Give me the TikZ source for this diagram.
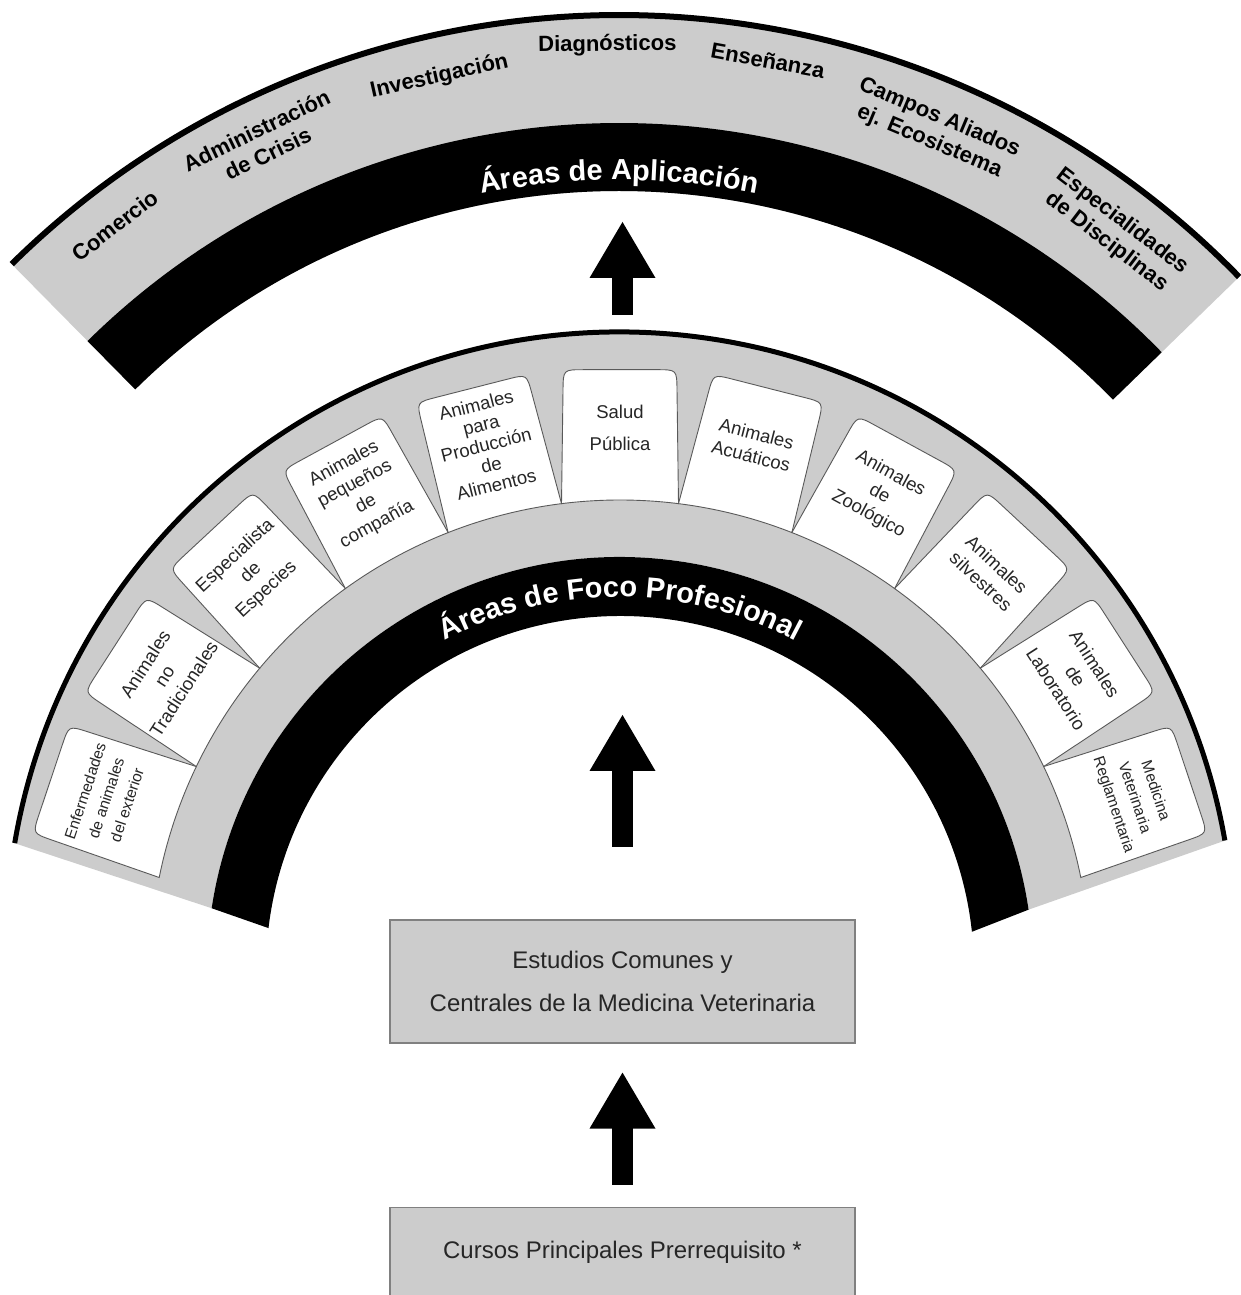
\documentclass[tikz,border=0pt]{standalone}
\usepackage{fontspec}
\setmainfont{Liberation Sans}
\usetikzlibrary{calc,arrows.meta,decorations.text}

\definecolor{bandgray}{HTML}{CCCCCC}
\definecolor{edgegray}{HTML}{808080}

\newcommand{\tabfont}{\fontsize{18.5}{23}\selectfont}
\newcommand{\tabtightfont}{\fontsize{18.5}{20.5}\selectfont}
\newcommand{\tabsmallfont}{\fontsize{15.5}{22}\selectfont}
\newcommand{\arcfont}{\bfseries\fontsize{22}{26}\selectfont}
\newcommand{\titlefont}{\bfseries\fontsize{29}{29}\selectfont}
\newcommand{\boxfont}{\fontsize{24}{43}\selectfont}

\tikzset{
  tab/.style={draw=black!65, fill=white, line width=0.9pt},
  tabtext/.style={align=center, font=\tabfont, text=black!85, inner sep=0pt},
  tabtight/.style={align=center, font=\tabtightfont, text=black!85, inner sep=0pt},
  tabsmall/.style={align=center, font=\tabsmallfont, text=black!85, inner sep=0pt},
  arclabel/.style={align=center, font=\arcfont, inner sep=0pt},
  studybox/.style={draw=edgegray, fill=bandgray, line width=1.2pt, minimum width=465pt,
    font=\boxfont, text=black!85, align=center},
  bigarrow/.style={line width=21pt, line cap=rect,
    -{Triangle[width=66pt, length=56pt, line width=0pt]}}
}

\begin{document}
\begin{tikzpicture}[x=1pt, y=1pt]
  \useasboundingbox (0,0) rectangle (1241,1295);

  % centres of the arcs
  \coordinate (capl) at (619,415);
  \coordinate (cfoco) at (620,325);
  \coordinate (cout) at (620,349);

  % top band: areas de aplicacion
  \fill[bandgray] ($(capl)+(134.6:866)$) arc[start angle=134.6, end angle=44.2, radius=866]
    -- ($(capl)+(44.2:689)$) arc[start angle=44.2, end angle=134.6, radius=689] -- cycle;
  \fill[black] ($(capl)+(134.6:757)$) arc[start angle=134.6, end angle=44.2, radius=757]
    -- ($(capl)+(44.2:689)$) arc[start angle=44.2, end angle=134.6, radius=689] -- cycle;
  \draw[line width=6pt] ($(capl)+(134.6:865)$) arc[start angle=134.6, end angle=44.2, radius=865];
  \path[decorate, decoration={text along path, text align=center, text color=white,
      text={|\titlefont|Áreas de Aplicación}}]
    ($(capl)+(106:700)$) arc[start angle=106, end angle=74, radius=700];

  \foreach \a/\r/\lbl [count=\n] in {127.6/826/Comercio,
      115.8/820/{Administración\\de Crisis},
      102.6/823/Investigación,
      90.8/835/Diagnósticos,
      79.7/833/Enseñanza,
      67.2/814/{Campos Aliados\\ej. Ecosistema},
      52.6/816/{Especialidades\\de Disciplinas}}
    \node[arclabel, rotate=\a-90] (area\n) at ($(capl)+(\a:\r)$) {\lbl};

  % middle band: areas de foco profesional
  \fill[bandgray] ($(cout)+(170.35:615)$) arc[start angle=170.35, end angle=9.9, radius=615]
    -- ($(cfoco)+(8.4:413)$) arc[start angle=8.4, end angle=171.4, radius=413] -- cycle;
  \draw[line width=5pt] ($(cout)+(170.35:614)$) arc[start angle=170.35, end angle=9.9, radius=614];

  \foreach \k/\fs/\lbl in {0/tabsmall/{Enfermedades\\de animales\\del exterior},
      1/tabtext/{Animales\\no\\Tradicionales},
      2/tabtext/{Especialista\\de\\Especies},
      3/tabtext/{Animales\\pequeños\\de\\compañía},
      4/tabtight/{Animales\\para\\Producción\\de\\Alimentos},
      5/tabtext/{Salud\\[9pt]Pública},
      6/tabtext/{Animales\\Acuáticos},
      7/tabtext/{Animales\\de\\Zoológico},
      8/tabtext/{Animales\\silvestres},
      9/tabtext/{Animales\\de\\Laboratorio},
      10/tabsmall/{Medicina\\Veterinaria\\Reglamentaria}}
  {
    \pgfmathsetmacro\tl{168.65-14.3*\k}
    \pgfmathsetmacro\tr{\tl-14.3}
    \pgfmathsetmacro\tc{\tl-7.15}
    \pgfmathsetmacro\ta{\tc-5.4}
    \pgfmathsetmacro\tb{\tc+5.4}
    \coordinate (p1) at ($(cfoco)+(\tr:470)$);
    \coordinate (p2) at ($(cfoco)+(\ta:603)$);
    \coordinate (p3) at ($(cfoco)+(\tb:603)$);
    \coordinate (p4) at ($(cfoco)+(\tl:470)$);
    \draw[tab] (p1) -- ($(p2)!20pt!(p1)$) .. controls (p2) .. ($(p2)!20pt!(p3)$)
      -- ($(p3)!20pt!(p2)$) .. controls (p3) .. ($(p3)!20pt!(p4)$)
      -- (p4) arc[start angle=\tl, end angle=\tr, radius=470] -- cycle;
    \node[\fs, rotate=\tc-90] (tab\k) at ($(cfoco)+(\tc:542)$) {\lbl};
  }

  \fill[black] ($(cfoco)+(171.4:413)$) arc[start angle=171.4, end angle=8.4, radius=413]
    -- ($(cfoco)+(6.2:354)$) arc[start angle=6.2, end angle=173.2, radius=354] -- cycle;
  \path[decorate, decoration={text along path, text align=center, text color=white,
      text={|\titlefont|Áreas de Foco Profesional}}]
    ($(cfoco)+(122:373)$) arc[start angle=122, end angle=58, radius=373];

  % boxes
  \node[studybox, minimum height=123pt] (estudios) at (622.5,313.5)
    {Estudios Comunes y\\Centrales de la Medicina Veterinaria};
  \node[studybox, anchor=north, inner ysep=0pt, text height=51pt, text depth=90pt] (cursos)
    at (622.5,88) {Cursos Principales Prerrequisito *};

  % arrows
  \coordinate (focoin) at (622.5,580);
  \coordinate (focotop) at (622.5,990.5);
  \coordinate (aplicin) at (622.5,1073);
  \draw[bigarrow, shorten <=32.5pt, shorten >=29pt] (cursos) -- (estudios);
  \draw[bigarrow, shorten <=82.5pt] (estudios) -- (focoin);
  \draw[bigarrow] (focotop) -- (aplicin);
\end{tikzpicture}
\end{document}
